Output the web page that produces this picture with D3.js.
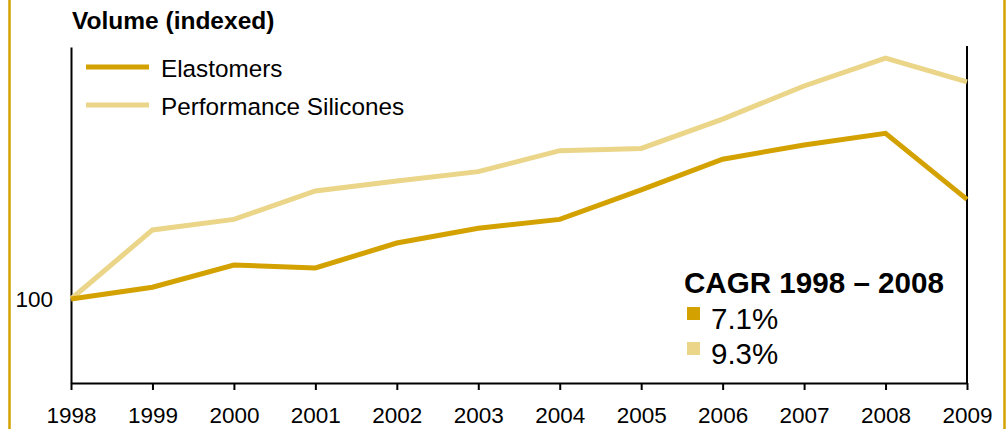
<!DOCTYPE html>
<html>
<head>
<meta charset="utf-8">
<script src="https://cdn.jsdelivr.net/npm/d3@7/dist/d3.min.js"></script>
<style>
  html, body { margin: 0; padding: 0; background: #fff; }
  svg { display: block; font-family: "Liberation Sans", Arial, sans-serif; }
</style>
</head>
<body>
<svg id="chart" width="1008" height="429"></svg>
<script>
// Volume index (1998 = 100)
const years = [1998, 1999, 2000, 2001, 2002, 2003, 2004, 2005, 2006, 2007, 2008, 2009];
const elastomers = [100, 107.0, 120.2, 118.5, 133.3, 142.1, 147.4, 164.9, 183.2, 191.7, 198.6, 159.3];
const silicones = [100, 141.1, 147.4, 164.3, 170.2, 175.8, 188.3, 189.6, 207.1, 226.8, 243.4, 229.3];
const seriesNames = ["Elastomers", "Performance Silicones"];
const seriesColors = ["#d3a200", "#ead588"];
const yTicks = [100];
const cagrTitle = "CAGR 1998 \u2013 2008";
const cagrValues = ["7.1%", "9.3%"];

const svg = d3.select("#chart");
const W = 1008, H = 429;
const m = { left: 71, right: 967, top: 47, bottom: 383 };
const font = "Liberation Sans, Arial, sans-serif";

// gold side rules framing the panel
svg.append("line").attr("x1", 9.5).attr("x2", 9.5).attr("y1", 0).attr("y2", H)
  .attr("stroke", seriesColors[0]).attr("stroke-width", 2.5);
svg.append("line").attr("x1", 1004.5).attr("x2", 1004.5).attr("y1", 0).attr("y2", H)
  .attr("stroke", seriesColors[0]).attr("stroke-width", 2.5);

const x = d3.scaleLinear().domain([1998, 2009]).range([m.left, m.right]);
const y = d3.scaleLinear().domain([50, 250]).range([m.bottom, m.top]);

// x axis
const xAxis = d3.axisBottom(x).tickValues(years).tickFormat(d3.format("d"))
  .tickSize(7).tickSizeOuter(0);
const gx = svg.append("g").attr("transform", `translate(0,${m.bottom})`).call(xAxis);
gx.select(".domain").attr("stroke", "#000").attr("stroke-width", 2);
gx.selectAll(".tick line").attr("stroke", "#000").attr("stroke-width", 2);
gx.selectAll(".tick text").attr("font-size", 22.5).attr("fill", "#000")
  .attr("font-family", font).attr("y", 24).attr("dy", "0.71em");

// y axis (only the base index is labelled)
const yAxis = d3.axisLeft(y).tickValues(yTicks).tickSize(0).tickSizeOuter(0).tickPadding(18);
const gy = svg.append("g").attr("transform", `translate(${m.left},0)`).call(yAxis);
gy.select(".domain").attr("stroke", "#000").attr("stroke-width", 2);
gy.selectAll(".tick text").attr("font-size", 22.5).attr("fill", "#000")
  .attr("font-family", font);

// right frame line
svg.append("line").attr("x1", m.right).attr("x2", m.right).attr("y1", m.top - 1).attr("y2", m.bottom)
  .attr("stroke", "#000").attr("stroke-width", 2);

// series lines
const line = d3.line().x((d, i) => x(years[i])).y(d => y(d));
[silicones, elastomers].forEach((vals, k) => {
  const ci = k === 0 ? 1 : 0;
  svg.append("path").datum(vals).attr("d", line)
    .attr("fill", "none").attr("stroke", seriesColors[ci]).attr("stroke-width", 5)
    .attr("stroke-linejoin", "miter");
});

// title
svg.append("text").attr("x", 72).attr("y", 29).attr("font-size", 24.5).attr("font-weight", "bold")
  .text("Volume (indexed)");

// legend
seriesNames.forEach((name, i) => {
  const ly = 67 + i * 38;
  svg.append("line").attr("x1", 86).attr("x2", 149).attr("y1", ly).attr("y2", ly)
    .attr("stroke", seriesColors[i]).attr("stroke-width", 5);
  svg.append("text").attr("x", 161).attr("y", ly + 10).attr("font-size", 24.3).text(name);
});

// CAGR box
svg.append("text").attr("x", 684).attr("y", 293).attr("font-size", 29.6).attr("font-weight", "bold")
  .text(cagrTitle);
cagrValues.forEach((v, i) => {
  const by = 329 + i * 35;
  svg.append("rect").attr("x", 687).attr("y", by - 22).attr("width", 13).attr("height", 13)
    .attr("fill", seriesColors[i]);
  svg.append("text").attr("x", 711).attr("y", by).attr("font-size", 29.5).text(v);
});
</script>
</body>
</html>
